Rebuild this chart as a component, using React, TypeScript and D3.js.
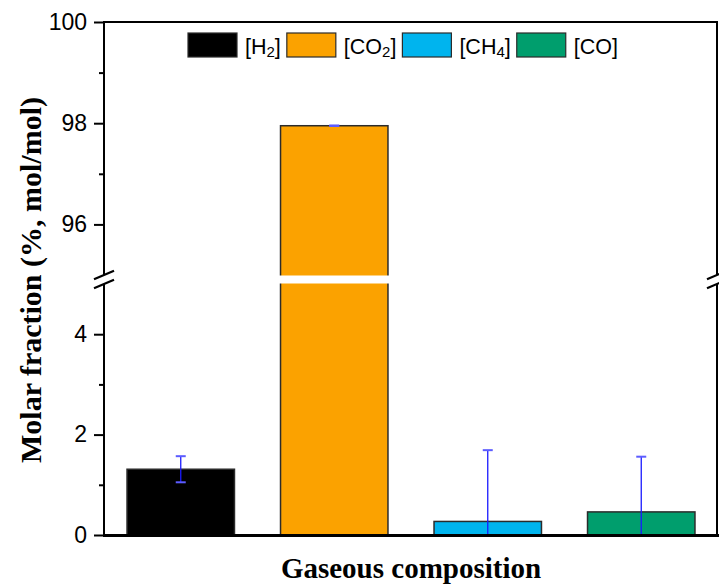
import React, { useEffect, useRef } from "react";
import { axisLeft, scaleBand, scaleLinear, select } from "d3";

const categories = ["H2", "CO2", "CH4", "CO"];
const labelMain = ["[H", "[CO", "[CH", "[CO]"];
const labelSub = ["2", "2", "4", ""];
const values = [1.31, 97.95, 0.27, 0.46];
const errors = [0.26, 0.005, 1.42, 1.1];
const colors = ["#000000", "#FBA200", "#00B4EE", "#009E6D"];

const upperDomain = [95, 100];
const lowerDomain = [0, 5];
const upperTicks = [96, 98, 100];
const upperMinor = [97, 99];
const lowerTicks = [0, 2, 4];
const lowerMinor = [1, 3];

const width = 719;
const height = 586;

const App = () => {
  const svgRef = useRef<SVGSVGElement>(null);

  useEffect(() => {
    document.body.style.margin = "0";
    const svg = select(svgRef.current);
    svg.selectAll("*").remove();

    const left = 104;
    const right = 718;
    const top = 22;
    const bottom = 535;
    const breakTop = 275;
    const breakBottom = 284;

    const x = scaleBand<string>()
      .domain(categories)
      .range([left, right])
      .paddingInner(0.3)
      .paddingOuter(0.15);
    const yUp = scaleLinear().domain(upperDomain).range([breakTop, top]);
    const yLow = scaleLinear().domain(lowerDomain).range([bottom, breakBottom]);
    const yOf = (v: number) => (v >= upperDomain[0] ? yUp(v) : yLow(Math.max(v, 0)));

    // bars: one rect per bar, the break gap is painted over afterwards
    svg
      .append("g")
      .selectAll("rect")
      .data(categories)
      .join("rect")
      .attr("x", (c) => x(c)!)
      .attr("width", x.bandwidth())
      .attr("y", (c, i) => yOf(values[i]))
      .attr("height", (c, i) => yLow(0) - yOf(values[i]))
      .attr("fill", (c, i) => colors[i])
      .attr("stroke", "#2b2b2b")
      .attr("stroke-width", 1.5);

    // white gap through the bars at the break
    svg
      .append("rect")
      .attr("x", left + 2)
      .attr("y", breakTop + 0.5)
      .attr("width", right - left - 4)
      .attr("height", breakBottom - breakTop - 1)
      .attr("fill", "#fff");

    // error bars
    const err = svg.append("g");
    categories.forEach((c, i) => {
      const cx = x(c)! + x.bandwidth() / 2;
      const hi = values[i] + errors[i];
      const lo = values[i] - errors[i];
      err
        .append("line")
        .attr("x1", cx)
        .attr("x2", cx)
        .attr("y1", yOf(hi))
        .attr("y2", yOf(lo))
        .attr("stroke", "#1a1aff")
        .attr("stroke-width", 1.3);
      const caps = lo > 0 ? [hi, lo] : [hi];
      caps.forEach((v) => {
        err
          .append("line")
          .attr("x1", cx - 5)
          .attr("x2", cx + 5)
          .attr("y1", yOf(v))
          .attr("y2", yOf(v))
          .attr("stroke", "#5c5cff")
          .attr("stroke-width", 2);
      });
    });

    // frame
    const frame = svg.append("g").attr("stroke", "#000").attr("fill", "none");
    frame.append("line").attr("x1", left).attr("x2", right).attr("y1", top).attr("y2", top).attr("stroke-width", 2);
    frame.append("line").attr("x1", left - 1).attr("x2", right + 1).attr("y1", bottom + 0.5).attr("y2", bottom + 0.5).attr("stroke-width", 3);
    [left, right - 1].forEach((ax) => {
      frame.append("line").attr("x1", ax).attr("x2", ax).attr("y1", top - 1).attr("y2", breakTop).attr("stroke-width", 2);
      frame.append("line").attr("x1", ax).attr("x2", ax).attr("y1", breakBottom).attr("y2", bottom).attr("stroke-width", 2);
      [breakTop, breakBottom].forEach((by) => {
        frame
          .append("line")
          .attr("x1", ax - 10)
          .attr("x2", ax + 10)
          .attr("y1", by + 4.3)
          .attr("y2", by - 4.3)
          .attr("stroke-width", 2.2);
      });
    });

    // y axes
    const font = "'Liberation Sans', Arial, sans-serif";
    const drawAxis = (scale: any, ticks: number[], minor: number[]) => {
      const g = svg.append("g").attr("transform", `translate(${left},0)`);
      g.call(axisLeft(scale).tickValues(ticks).tickSize(10).tickPadding(7).tickFormat((d: any) => `${d}`));
      g.select(".domain").remove();
      g.selectAll("line").attr("stroke-width", 2);
      g.selectAll("text").attr("font-family", font).attr("font-size", 23).attr("fill", "#000");
      const m = svg.append("g").attr("transform", `translate(${left},0)`);
      m.call(axisLeft(scale).tickValues(minor).tickSize(5).tickFormat(() => ""));
      m.select(".domain").remove();
      m.selectAll("line").attr("stroke-width", 2);
    };
    drawAxis(yUp, upperTicks, upperMinor);
    drawAxis(yLow, lowerTicks, lowerMinor);

    // legend
    const legend = svg.append("g").attr("font-family", font).attr("font-size", 21.5);
    let lx = 188;
    categories.forEach((c, i) => {
      legend
        .append("rect")
        .attr("x", lx)
        .attr("y", 33)
        .attr("width", 49)
        .attr("height", 24)
        .attr("fill", colors[i])
        .attr("stroke", "#2b2b2b")
        .attr("stroke-width", 1.2);
      const t = legend.append("text").attr("x", lx + 57).attr("y", 54);
      t.append("tspan").text(labelMain[i]);
      if (labelSub[i]) {
        t.append("tspan").attr("font-size", 15).attr("dy", 3).text(labelSub[i]);
        t.append("tspan").attr("dy", -3).text("]");
      }
      const w = (t.node() as SVGTextElement).getComputedTextLength();
      lx += 57 + w + 6;
    });

    // axis titles
    svg
      .append("text")
      .attr("x", (left + right) / 2)
      .attr("y", 578)
      .attr("text-anchor", "middle")
      .attr("font-family", "'Liberation Serif', 'Times New Roman', serif")
      .attr("font-weight", "bold")
      .attr("font-size", 29)
      .text("Gaseous composition");
    svg
      .append("text")
      .attr("transform", `translate(41,${(97 + 463) / 2}) rotate(-90)`)
      .attr("text-anchor", "middle")
      .attr("font-family", "'Liberation Serif', 'Times New Roman', serif")
      .attr("font-weight", "bold")
      .attr("font-size", 30)
      .text("Molar fraction (%, mol/mol)");
  }, []);

  return <svg ref={svgRef} width={width} height={height} style={{ display: "block", background: "#fff" }} />;
};

export default App;
